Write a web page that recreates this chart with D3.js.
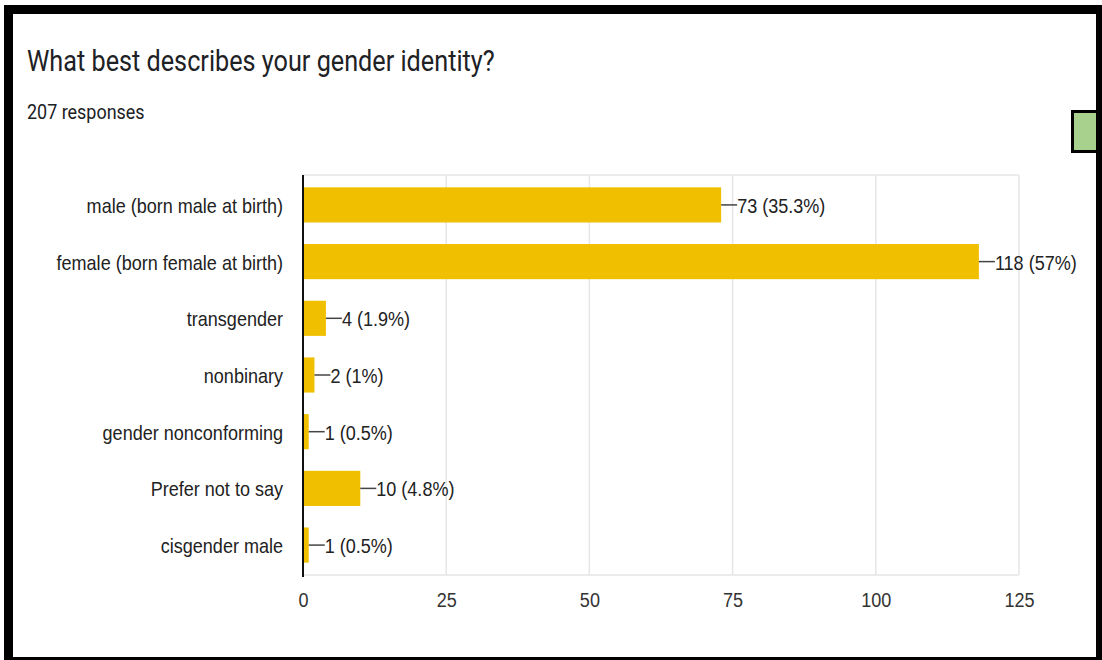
<!DOCTYPE html>
<html>
<head>
<meta charset="utf-8">
<script src="https://cdn.jsdelivr.net/npm/d3@7"></script>
<style>
  html, body { margin: 0; padding: 0; background: #fff; }
  svg { display: block; }
</style>
</head>
<body>
<svg id="chart" width="1102" height="660"></svg>
<script>
// Survey answers and counts
const categories = [
  "male (born male at birth)",
  "female (born female at birth)",
  "transgender",
  "nonbinary",
  "gender nonconforming",
  "Prefer not to say",
  "cisgender male"
];
const counts = [73, 118, 4, 2, 1, 10, 1];
const percentLabels = ["35.3%", "57%", "1.9%", "1%", "0.5%", "4.8%", "0.5%"];
const xTicks = [0, 25, 50, 75, 100, 125];

const title = "What best describes your gender identity?";
const subtitle = "207 responses";

const W = 1102, H = 660;
const plot = { left: 303, right: 1019, top: 175, bottom: 575 };
const squeeze = 0.88;           // label text is drawn narrow
const titleSqueeze = 0.855;
const labelSize = 20.5;
const labelFont = "'Liberation Sans', Arial, sans-serif";
const titleFont = "Roboto, 'Liberation Sans', sans-serif";

const svg = d3.select("#chart");

const data = categories.map((c, i) => ({ cat: c, value: counts[i], pct: percentLabels[i] }));

const x = d3.scaleLinear().domain([0, 125]).range([plot.left, plot.right]);
const y = d3.scaleBand().domain(categories).range([plot.top + 1, plot.bottom - 1])
  .paddingInner(0.38).paddingOuter(0.2);

// titles
svg.append("text")
  .attr("transform", `translate(27,71) scale(${titleSqueeze},1)`)
  .attr("font-family", titleFont).attr("font-size", 29.5)
  .attr("fill", "#202124").text(title);

svg.append("text")
  .attr("transform", `translate(27,119) scale(${titleSqueeze},1)`)
  .attr("font-family", titleFont).attr("font-size", 21)
  .attr("fill", "#202124").text(subtitle);

// grid: vertical lines at ticks plus top and bottom edges
const grid = svg.append("g").attr("stroke", "#e6e6e6").attr("stroke-width", 1.5);
grid.selectAll("line.v").data(xTicks.slice(1)).join("line")
  .attr("class", "v")
  .attr("x1", d => x(d)).attr("x2", d => x(d))
  .attr("y1", plot.top).attr("y2", plot.bottom);
grid.selectAll("line.h").data([plot.top, plot.bottom]).join("line")
  .attr("class", "h")
  .attr("x1", plot.left).attr("x2", plot.right)
  .attr("y1", d => d).attr("y2", d => d);

// bars
svg.append("g").selectAll("rect").data(data).join("rect")
  .attr("x", x(0))
  .attr("y", d => y(d.cat))
  .attr("width", d => x(d.value) - x(0))
  .attr("height", y.bandwidth())
  .attr("fill", "#f0c000");

// value labels with leader dash
const lab = svg.append("g");
lab.selectAll("line").data(data).join("line")
  .attr("x1", d => x(d.value)).attr("x2", d => x(d.value) + 16)
  .attr("y1", d => y(d.cat) + y.bandwidth() / 2)
  .attr("y2", d => y(d.cat) + y.bandwidth() / 2)
  .attr("stroke", "#444").attr("stroke-width", 1.5);
lab.selectAll("text").data(data).join("text")
  .attr("transform", d => `translate(${x(d.value) + 16},${y(d.cat) + y.bandwidth() / 2 + 8}) scale(${squeeze},1)`)
  .attr("font-family", labelFont).attr("font-size", labelSize)
  .attr("fill", "#222")
  .text(d => `${d.value} (${d.pct})`);

// category axis labels
svg.append("g").selectAll("text").data(data).join("text")
  .attr("transform", d => `translate(283,${y(d.cat) + y.bandwidth() / 2 + 8}) scale(${squeeze},1)`)
  .attr("text-anchor", "end")
  .attr("font-family", labelFont).attr("font-size", labelSize)
  .attr("fill", "#222")
  .text(d => d.cat);

// x axis tick labels
const xAxis = svg.append("g")
  .attr("transform", `translate(0,${plot.bottom})`)
  .call(d3.axisBottom(x).tickValues(xTicks).tickSize(0).tickPadding(17));
xAxis.select(".domain").remove();
xAxis.selectAll("text")
  .attr("font-family", labelFont).attr("font-size", labelSize)
  .attr("fill", "#333")
  .attr("transform", `scale(${squeeze},1)`);

// zero baseline
svg.append("line")
  .attr("x1", x(0)).attr("x2", x(0))
  .attr("y1", plot.top).attr("y2", plot.bottom + 2)
  .attr("stroke", "#111").attr("stroke-width", 2);

// green marker at the right edge
svg.append("rect")
  .attr("x", 1072.5).attr("y", 111.5).attr("width", 28).attr("height", 40)
  .attr("fill", "#a9d18e").attr("stroke", "#000").attr("stroke-width", 3);

// outer frame
const frame = svg.append("g").attr("fill", "#000");
frame.append("rect").attr("x", 4).attr("y", 5).attr("width", W - 4).attr("height", 9);
frame.append("rect").attr("x", 4).attr("y", 5).attr("width", 9).attr("height", H - 5);
frame.append("rect").attr("x", 1096).attr("y", 5).attr("width", 6).attr("height", H - 5);
frame.append("rect").attr("x", 4).attr("y", 657).attr("width", W - 4).attr("height", 3);
</script>
</body>
</html>
